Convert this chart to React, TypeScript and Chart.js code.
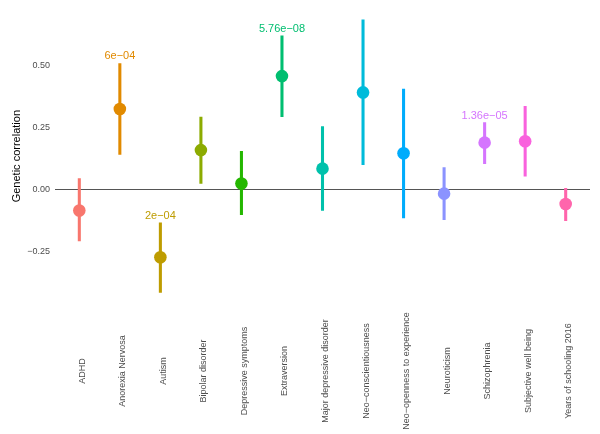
import React, { useEffect, useRef } from "react";
import { Chart, registerables } from "chart.js";

Chart.register(...registerables);

const categories = [
  "ADHD",
  "Anorexia Nervosa",
  "Autism",
  "Bipolar disorder",
  "Depressive symptoms",
  "Extraversion",
  "Major depressive disorder",
  "Neo\u2212conscientiousness",
  "Neo\u2212openness to experience",
  "Neuroticism",
  "Schizophrenia",
  "Subjective well being",
  "Years of schooling 2016",
];

const estimates = [-0.084, 0.326, -0.273, 0.16, 0.025, 0.459, 0.085, 0.393, 0.147, -0.016, 0.19, 0.196, -0.058];
const lower = [-0.207, 0.142, -0.415, 0.025, -0.101, 0.295, -0.084, 0.101, -0.114, -0.121, 0.105, 0.055, -0.125];
const upper = [0.045, 0.51, -0.134, 0.293, 0.155, 0.622, 0.255, 0.686, 0.407, 0.089, 0.271, 0.337, 0.005];

const pLabels = ["", "6e\u221204", "2e\u221204", "", "", "5.76e\u221208", "", "", "", "", "1.36e\u221205", "", ""];

const colors = [
  "#F8766D", "#E18A00", "#BE9C00", "#8CAB00", "#24B700", "#00BE70", "#00C1AB",
  "#00BBDA", "#00ACFC", "#8B93FF", "#D575FE", "#F962DD", "#FF65AC",
];

const yTicks = [-0.25, 0, 0.25, 0.5];

const FONT = "'Liberation Sans', Arial, Helvetica, sans-serif";

const overlayPlugin = {
  id: "overlay",
  afterDraw(chart: any) {
    const ctx = chart.ctx;
    const xs = chart.scales.x;
    const ys = chart.scales.y;
    ctx.save();
    // p-value annotations
    ctx.font = `11px ${FONT}`;
    ctx.textAlign = "center";
    ctx.textBaseline = "alphabetic";
    pLabels.forEach((t, i) => {
      if (!t) return;
      ctx.fillStyle = colors[i];
      ctx.fillText(t, xs.getPixelForValue(i), ys.getPixelForValue(upper[i]) - 4);
    });
    // category labels, rotated and centred
    ctx.font = `9px ${FONT}`;
    ctx.fillStyle = "#4d4d4d";
    ctx.textAlign = "center";
    ctx.textBaseline = "middle";
    categories.forEach((c, i) => {
      ctx.save();
      ctx.translate(xs.getPixelForValue(i) + 3, chart.chartArea.bottom + 65);
      ctx.rotate(-Math.PI / 2);
      ctx.fillText(c, 0, 0);
      ctx.restore();
    });
    ctx.restore();
  },
};

export default function App() {
  const ref = useRef<HTMLCanvasElement | null>(null);

  useEffect(() => {
    if (!ref.current) return;
    const chart = new Chart(ref.current, {
      type: "scatter",
      data: {
        datasets: [
          {
            type: "scatter",
            label: "estimate",
            data: estimates.map((v, i) => ({ x: i, y: v })),
            backgroundColor: colors,
            borderWidth: 0,
            pointRadius: 6.3,
            order: 0,
          } as any,
          {
            type: "bar",
            label: "interval",
            data: lower.map((v, i) => ({ x: i, y: [v, upper[i]] })),
            backgroundColor: colors,
            borderWidth: 0,
            barThickness: 2.4,
            grouped: false,
            order: 1,
          } as any,
        ],
      },
      options: {
        animation: false,
        responsive: true,
        maintainAspectRatio: false,
        layout: { padding: { top: 2, right: 10, bottom: 128, left: 0 } },
        plugins: { legend: { display: false }, tooltip: { enabled: false } },
        scales: {
          x: {
            type: "linear",
            display: false,
            offset: false,
            min: -0.6,
            max: 12.6,
            grid: { display: false },
          },
          y: {
            type: "linear",
            min: -0.47,
            max: 0.741,
            border: { display: false },
            grid: {
              drawTicks: false,
              color: (c: any) => (c.tick && c.tick.value === 0 ? "#555555" : "rgba(0,0,0,0)"),
              lineWidth: 1,
            },
            afterBuildTicks: (s: any) => {
              s.ticks = yTicks.map((v) => ({ value: v }));
            },
            afterFit: (s: any) => {
              s.width = 55;
              s.paddingTop = 0;
              s.paddingBottom = 0;
            },
            ticks: {
              color: "#4d4d4d",
              padding: 5,
              font: { family: FONT, size: 9 },
              callback: (v: any) => Number(v).toFixed(2).replace("-", "\u2212"),
            },
            title: {
              display: true,
              text: "Genetic correlation",
              color: "#000000",
              font: { family: FONT, size: 11 },
              padding: { top: 10, bottom: 0 },
            },
          },
        },
      },
      plugins: [overlayPlugin],
    });
    return () => chart.destroy();
  }, []);

  return (
    <div style={{ position: "fixed", left: 0, top: 0, width: 600, height: 434, background: "#fff" }}>
      <canvas ref={ref} />
    </div>
  );
}
